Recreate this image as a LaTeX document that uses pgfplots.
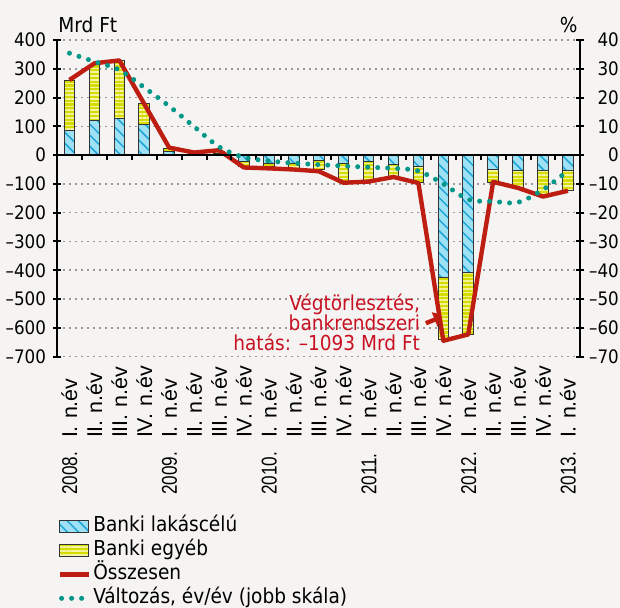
\documentclass[border=0pt]{standalone}
\usepackage{fontspec}
\setmainfont{DejaVu Sans Condensed}
\newfontfamily\xfont{Liberation Sans}
\usepackage{pgfplots}
\usepackage{pgfplotstable}
\pgfplotsset{compat=1.18}
\usetikzlibrary{patterns.meta,arrows.meta}

\definecolor{bg}{RGB}{245,244,242}
\definecolor{lakfill}{RGB}{158,224,244}
\definecolor{lakline}{RGB}{30,165,215}
\definecolor{egyfill}{RGB}{214,220,0}
\definecolor{egyline}{RGB}{244,244,165}
\definecolor{ossz}{RGB}{190,30,18}
\definecolor{valt}{RGB}{0,150,136}
\definecolor{annot}{RGB}{200,18,35}

\newcommand\tf{\fontsize{9.3}{10.5}\selectfont}
\newcommand\lf{\fontsize{10.3}{10}\selectfont}
\newcommand\yr[1]{\makebox[28.5pt][l]{\scalebox{0.8}[1]{#1}}}
\newcommand\q{\makebox[28.5pt]{}}

% i = quarter index (0 = 2008 I), lak/egy in Mrd Ft, valt in %
\pgfplotstableread{
i lak egy ossz valt
0 85 176 261 35.4
1 122 193 319 32.5
2 128 201 329 29.6
3 107 73 178 23.5
4 12 10 26 17.0
5 3 4 9 9.9
6 5 6 17 2.9
7 -23 -17 -43 -0.8
8 -30 -8 -46 -2.0
9 -29 -17 -50 -2.8
10 -20 -31 -56 -3.3
11 -28 -66 -96 -3.8
12 -23 -71 -92 -4.2
13 -34 -40 -76 -4.6
14 -40 -56 -97 -5.5
15 -425 -216 -645 -10.0
16 -409 -214 -623 -15.4
17 -51 -44 -93 -16.1
18 -52 -62 -114 -16.4
19 -52 -86 -144 -12.0
20 -52 -72 -124 -5.4
}\data

\pgfplotsset{
  base/.style={
    scale only axis, width=261.7pt, height=158.3pt,
    at={(28.5pt,125.7pt)}, anchor=south west,
    xmin=-0.5, xmax=20.5,
    tick align=center, major tick length=4pt,
    tick label style={font=\tf},
  },
  boxleg/.style={legend image code/.code={\draw[##1] (0pt,-3pt) rectangle (14.5pt,3pt);}},
  lineleg/.style={legend image code/.code={\draw[##1] (0pt,0pt) -- (14.5pt,0pt);}},
  dotleg/.style={legend image code/.code={\draw[##1] (1pt,0pt) -- (12pt,0pt);}},
  osszline/.style={ossz, line width=2.2pt, line join=round},
  valtline/.style={valt, line width=2.5pt, line cap=round, dash pattern=on 0pt off 5pt},
}

\begin{document}
\begin{tikzpicture}
\fill[bg] (0,0) rectangle (310pt,304pt);

\begin{axis}[base,
  ybar stacked, bar width=5.3pt,
  ymin=-700, ymax=400,
  ytick={-700,-600,...,400},
  yticklabels={–700,–600,–500,–400,–300,–200,–100,0,100,200,300,400},
  axis y line*=left, axis x line*=bottom,
  x axis line style={draw=none},
  y axis line style={line width=1pt},
  ytick style={line width=1pt, black},
  xtick style={draw=none},
  ymajorgrids,
  grid style={black!40, line width=0.8pt, dash pattern=on 0.8pt off 2.2pt},
  xtick={0,...,20},
  xticklabels={\yr{2008.}I. n.év,\q II. n.év,\q III. n.év,\q IV. n.év,
    \yr{2009.}I. n.év,\q II. n.év,\q III. n.év,\q IV. n.év,
    \yr{2010.}I. n.év,\q II. n.év,\q III. n.év,\q IV. n.év,
    \yr{2011.}I. n.év,\q II. n.év,\q III. n.év,\q IV. n.év,
    \yr{2012.}I. n.év,\q II. n.év,\q III. n.év,\q IV. n.év,
    \yr{2013.}I. n.év},
  xticklabel style={font=\xfont\fontsize{10.7}{12}\selectfont, rotate=90,
    anchor=east, text width=67pt, align=left, inner sep=0pt},
  legend style={at={(0,-0.497)}, anchor=north west, draw=none, fill=none,
    inner sep=0pt, font=\lf, row sep=0pt,
    nodes={inner sep=1.25pt, text height=7.5pt, text depth=2pt}},
  legend cell align=left,
]
\addplot[boxleg, fill=lakfill, draw=black!80, line width=0.5pt,
  postaction={pattern={Lines[angle=-45,distance=3.9pt,line width=0.75pt]}, pattern color=lakline}]
  table[x=i,y=lak]{\data};
\addlegendentry{Banki lakáscélú}
\addplot[boxleg, fill=egyfill, draw=black!80, line width=0.5pt,
  postaction={pattern={Lines[angle=0,distance=1.9pt,line width=0.75pt]}, pattern color=egyline}]
  table[x=i,y=egy]{\data};
\addlegendentry{Banki egyéb}
\addlegendimage{lineleg, osszline}
\addlegendentry{Összesen}
\addlegendimage{dotleg, valtline}
\addlegendentry{Változás, év/év (jobb skála)}

\node[anchor=east, align=right, text=annot, font=\lf, inner sep=0pt]
  at (axis cs:14.08,-581) {Végtörlesztés,\\bankrendszeri\\hatás: –1093 Mrd Ft};
\draw[ossz, line width=2.2pt, -{Triangle[length=6pt,width=7.5pt]}] (axis cs:14.3,-584) -- (axis cs:15.1,-556);
\end{axis}

\begin{axis}[base, ymin=-700, ymax=400, hide axis]
\addplot[osszline] table[x=i,y=ossz]{\data};
\end{axis}

\begin{axis}[base, ymin=-70, ymax=40,
  axis y line*=right, axis x line=none,
  ytick={-70,-60,...,40},
  yticklabels={–70,–60,–50,–40,–30,–20,–10,0,10,20,30,40},
  y axis line style={line width=1pt},
  ytick style={line width=1pt, black},
  yticklabel style={text width=15pt, align=right, inner sep=0pt, xshift=2pt},
]
\draw[line width=1pt] (axis cs:-0.5,0) -- (axis cs:20.5,0);
\pgfplotsinvokeforeach{0.5,1.5,...,19.5}{\draw[line width=1pt] (axis cs:#1,0) -- ([yshift=-2.2pt]axis cs:#1,0);}
\addplot[valtline, smooth, tension=0.5] table[x=i,y=valt]{\data};
\end{axis}

\node[anchor=base west, font=\lf, inner sep=0pt] at (29pt,287.5pt) {Mrd Ft};
\node[anchor=base east, font=\lf, inner sep=0pt] at (289pt,287.5pt) {\%};

\pgfresetboundingbox
\path[use as bounding box] (0,0) rectangle (310pt,304pt);
\end{tikzpicture}
\end{document}
